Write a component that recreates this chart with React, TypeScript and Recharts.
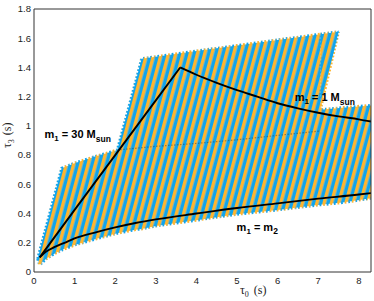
import React from 'react';
import { ComposedChart, Area, Line, XAxis, YAxis, ReferenceDot } from 'recharts';

// tau0 / tau3 tick values
const xTicks = [0, 1, 2, 3, 4, 5, 6, 7, 8];
const yTicks = [0, 0.2, 0.4, 0.6, 0.8, 1, 1.2, 1.4, 1.6, 1.8];

// outline of the tiled template region (tau0, lower edge, upper edge)
const bankTau0 = [0.09, 0.14, 0.3, 0.5, 0.68, 1.0, 1.5, 2.05, 2.5, 2.65, 3, 4, 5, 6, 7.05, 7.05, 7.6, 8.3];
const bankLow = [0.09, 0.05, 0.09, 0.125, 0.15, 0.185, 0.225, 0.265, 0.29, 0.295, 0.315, 0.355, 0.395, 0.425, 0.46, 0.46, 0.475, 0.505];
const bankHigh = [0.09, 0.145, 0.31, 0.52, 0.71, 0.745, 0.79, 0.835, 1.3, 1.46, 1.473, 1.512, 1.55, 1.588, 1.628, 1.11, 1.125, 1.14];

// small wedge at the right edge of the upper patch
const wedgeTau0 = [7.05, 7.5];
const wedgeLow = [1.11, 1.645];
const wedgeHigh = [1.628, 1.645];

// edge of the lower patch seen through the upper one
const seamTau0 = [2.05, 3, 4, 5, 6, 7.05];
const seamTau3 = [0.835, 0.86, 0.88, 0.905, 0.935, 0.965];

// boundary curves
const eqMassTau0 = [0.14, 0.3, 0.5, 0.75, 1, 1.5, 2, 2.5, 3, 4, 5, 6, 7, 8, 8.3];
const eqMassTau3 = [0.1, 0.14, 0.17, 0.2, 0.23, 0.27, 0.305, 0.335, 0.36, 0.4, 0.438, 0.47, 0.502, 0.53, 0.54];

const m30Tau0 = [0.14, 1, 2, 3, 3.6];
const m30Tau3 = [0.1, 0.425, 0.8, 1.175, 1.4];

const m1Tau0 = [3.6, 4, 4.5, 5, 5.5, 6, 6.5, 7, 7.5, 8, 8.3];
const m1Tau3 = [1.4, 1.35, 1.295, 1.245, 1.2, 1.155, 1.12, 1.09, 1.065, 1.045, 1.03];

const bankRows = bankTau0.map((x, i) => ({ x, r: [bankLow[i], bankHigh[i]] }));
const wedgeRows = wedgeTau0.map((x, i) => ({ x, r: [wedgeLow[i], wedgeHigh[i]] }));
const toRows = (xs: number[], ys: number[]) => xs.map((x, i) => ({ x, y: ys[i] }));

const ORANGE = '#FFB52E';
const BLUE = '#0FA4EE';
const AXIS = '#333';
const SANS = 'Liberation Sans, Arial, sans-serif';
const SERIF = 'Liberation Serif, Times New Roman, serif';

const massLabel = (rest: string, sub: string, subDy: number) => (props: any) => {
  const { x, y } = props.viewBox;
  return (
    <text x={x} y={y} fontFamily={SANS} fontWeight="bold" fontSize={11} fill="#000">
      m
      <tspan dy={3} fontSize={8}>1</tspan>
      <tspan dy={-3}>{rest}</tspan>
      <tspan dy={subDy} fontSize={8.5}>{sub}</tspan>
    </text>
  );
};

const App: React.FC = () => {
  return (
    <div style={{ position: 'absolute', left: 0, top: 0, background: '#fff' }}>
      <ComposedChart width={374} height={301} margin={{ top: 9, right: 3, bottom: 0, left: 0 }}>
        <defs>
          <pattern id="stripes" patternUnits="userSpaceOnUse" width={7} height={10} patternTransform="rotate(15)">
            <rect x={0} y={0} width={3.5} height={10} fill={ORANGE} />
            <rect x={3.5} y={0} width={3.5} height={10} fill={BLUE} />
            <rect x={3.35} y={0} width={0.4} height={10} fill="#2a5570" fillOpacity={0.3} />
          </pattern>
        </defs>

        <XAxis
          type="number"
          dataKey="x"
          domain={[0, 8.3]}
          ticks={xTicks}
          height={29}
          allowDataOverflow
          tickLine={false}
          tickSize={0}
          tickMargin={5}
          axisLine={{ stroke: AXIS }}
          tick={{ fontSize: 9.5, fill: '#222', fontFamily: SANS }}
          label={{
            content: () => (
              <text x={240} y={294} fontFamily={SERIF} fontSize={12} fill="#222">
                τ<tspan dy={3} fontSize={8}>0</tspan>
                <tspan dy={-3} dx={5}>(s)</tspan>
              </text>
            ),
          }}
        />
        <YAxis
          type="number"
          domain={[0, 1.8]}
          ticks={yTicks}
          width={34}
          allowDataOverflow
          tickLine={false}
          tickSize={0}
          tickMargin={3}
          axisLine={{ stroke: AXIS }}
          tick={{ fontSize: 9.5, fill: '#222', fontFamily: SANS }}
          label={{
            content: () => (
              <text x={11} y={148} transform="rotate(-90 11 148)" fontFamily={SERIF} fontSize={12} fill="#222">
                τ<tspan dy={3} fontSize={8}>3</tspan>
                <tspan dy={-3} dx={4}>(s)</tspan>
              </text>
            ),
          }}
        />
        {/* inward ticks on all four sides */}
        <XAxis xAxisId="top" orientation="top" type="number" domain={[0, 8.3]} ticks={xTicks} mirror tick={false} tickSize={4} axisLine={{ stroke: AXIS }} tickLine={{ stroke: AXIS }} allowDataOverflow />
        <XAxis xAxisId="bot" orientation="bottom" type="number" domain={[0, 8.3]} ticks={xTicks} mirror tick={false} tickSize={4} axisLine={false} tickLine={{ stroke: AXIS }} allowDataOverflow />
        <YAxis yAxisId="lft" type="number" domain={[0, 1.8]} ticks={yTicks} mirror tick={false} tickSize={4} axisLine={false} tickLine={{ stroke: AXIS }} allowDataOverflow />
        <YAxis yAxisId="rgt" orientation="right" type="number" domain={[0, 1.8]} ticks={yTicks} mirror tick={false} tickSize={4} axisLine={{ stroke: AXIS }} tickLine={{ stroke: AXIS }} allowDataOverflow />

        <Area data={bankRows} dataKey="r" type="linear" stroke="url(#stripes)" strokeWidth={3} strokeDasharray="1.8 1.8" fill="url(#stripes)" fillOpacity={1} isAnimationActive={false} />
        <Area data={wedgeRows} dataKey="r" type="linear" stroke="url(#stripes)" strokeWidth={3} strokeDasharray="1.8 1.8" fill="url(#stripes)" fillOpacity={1} isAnimationActive={false} />
        <Line data={toRows(seamTau0, seamTau3)} dataKey="y" type="linear" dot={false} stroke="#333" strokeOpacity={0.45} strokeWidth={1.2} strokeDasharray="1.5 1.5" isAnimationActive={false} />

        <Line data={toRows(eqMassTau0, eqMassTau3)} dataKey="y" type="monotone" dot={false} stroke="#000" strokeWidth={1.9} isAnimationActive={false} />
        <Line data={toRows(m30Tau0, m30Tau3)} dataKey="y" type="linear" dot={false} stroke="#000" strokeWidth={1.9} isAnimationActive={false} />
        <Line data={toRows(m1Tau0, m1Tau3)} dataKey="y" type="monotone" dot={false} stroke="#000" strokeWidth={1.9} isAnimationActive={false} />

        <ReferenceDot x={0.26} y={0.92} r={0} fill="none" stroke="none" label={{ content: massLabel(' = 30 M', 'sun', 4) }} />
        <ReferenceDot x={6.42} y={1.17} r={0} fill="none" stroke="none" label={{ content: massLabel(' = 1 M', 'sun', 4) }} />
        <ReferenceDot x={4.99} y={0.28} r={0} fill="none" stroke="none" label={{ content: massLabel(' = m', '2', 3) }} />
      </ComposedChart>
    </div>
  );
};

export default App;
